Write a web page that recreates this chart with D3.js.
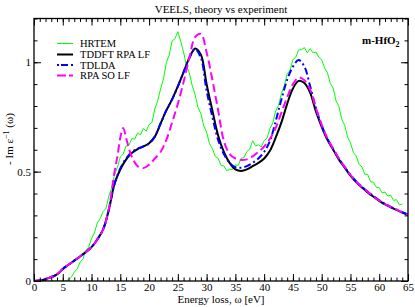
<!DOCTYPE html>
<html>
<head>
<meta charset="utf-8">
<script src="https://cdn.jsdelivr.net/npm/d3@7"></script>
<style>
  body { margin: 0; background: #fff; }
  svg { display: block; font-family: "Liberation Serif", "DejaVu Serif", serif; }
</style>
</head>
<body>
<script>
// sizes
const width = 415;
const height = 307;
const plotLeft = 34, plotRight = 408, plotTop = 18.5, plotBottom = 281;

// data: [energy eV, -Im 1/eps]
const hrtem = [
  [0,0],[5.5,0],[6,0.006],[6.5,0.018],[7,0.04],[7.5,0.055],[8,0.085],[8.5,0.1],[9,0.14],[9.5,0.155],
  [10,0.195],[10.5,0.22],[11,0.265],[11.5,0.285],[12,0.318],[12.5,0.33],[13,0.388],[13.5,0.425],[14,0.487],[14.5,0.52],
  [15,0.567],[15.5,0.58],[16,0.617],[16.5,0.62],[17,0.652],[17.5,0.648],[18,0.676],[18.5,0.668],[19,0.697],[19.5,0.685],
  [20,0.716],[20.5,0.725],[21,0.787],[21.5,0.824],[22,0.878],[22.5,0.924],[23,0.998],[23.5,1.033],[24,1.097],[24.5,1.108],
  [25,1.14],[25.5,1.095],[26,1.046],[26.5,0.984],[27,0.951],[27.5,0.893],[28,0.852],[28.5,0.794],[29,0.766],[29.5,0.709],
  [30,0.681],[30.5,0.628],[31,0.606],[31.5,0.569],[32,0.561],[32.5,0.529],[33,0.526],[33.5,0.504],[34,0.511],[34.5,0.509],
  [35,0.531],[35.5,0.528],[36,0.561],[36.5,0.564],[37,0.592],[37.5,0.603],[38,0.641],[38.5,0.618],[39,0.622],[39.5,0.613],
  [40,0.641],[40.5,0.653],[41,0.697],[41.5,0.723],[42,0.777],[42.5,0.803],[43,0.857],[43.5,0.893],[44,0.947],[44.5,0.963],
  [45,1.012],[45.5,1.023],[46,1.057],[46.5,1.058],[47,1.067],[47.5,1.043],[48,1.062],[48.5,1.043],[49,1.047],[49.5,1.023],
  [50,1.012],[50.5,0.973],[51,0.952],[51.5,0.903],[52,0.882],[52.5,0.823],[53,0.797],[53.5,0.738],[54,0.712],[54.5,0.658],
  [55,0.632],[55.5,0.588],[56,0.572],[56.5,0.533],[57,0.522],[57.5,0.488],[58,0.487],[58.5,0.453],[59,0.452],[59.5,0.428],
  [60,0.427],[60.5,0.403],[61,0.407],[61.5,0.388],[62,0.392],[62.5,0.368],[63,0.372],[63.5,0.348],[64,0.352]
];

const tddftRpaLf = [
  [0,0],[1,0.002],[2,0.008],[3,0.018],[4,0.03],[5,0.055],[6,0.074],[7,0.093],[8,0.112],[9,0.132],
  [10,0.155],[11,0.19],[12,0.235],[13,0.325],[14,0.445],[15,0.51],[16,0.555],[17,0.585],[18,0.603],[19,0.615],
  [20,0.63],[21,0.66],[22,0.72],[23,0.78],[24,0.83],[25,0.89],[26,0.955],[27,1.02],[28,1.063],[29,1.035],
  [30,0.9],[31,0.78],[32,0.665],[33,0.59],[34,0.54],[35,0.51],[36,0.503],[37,0.51],[38,0.525],[39,0.54],
  [40,0.56],[41,0.595],[42,0.655],[43,0.725],[44,0.81],[45,0.88],[46,0.915],[47,0.905],[48,0.86],[49,0.775],
  [50,0.705],[51,0.645],[52,0.6],[53,0.555],[54,0.518],[55,0.482],[56,0.452],[57,0.427],[58,0.405],[59,0.385],
  [60,0.366],[61,0.35],[62,0.337],[63,0.325],[64,0.313],[65,0.302]
];

const tdlda = [
  [0,0],[1,0.002],[2,0.008],[3,0.018],[4,0.03],[5,0.055],[6,0.074],[7,0.093],[8,0.112],[9,0.132],
  [10,0.155],[11,0.19],[12,0.235],[13,0.325],[14,0.445],[15,0.515],[16,0.56],[17,0.59],[18,0.605],[19,0.615],
  [20,0.628],[21,0.66],[22,0.72],[23,0.78],[24,0.83],[25,0.89],[26,0.955],[27,1.02],[28,1.06],[29,1.02],
  [30,0.87],[31,0.75],[32,0.645],[33,0.58],[34,0.54],[35,0.52],[36,0.518],[37,0.525],[38,0.54],[39,0.56],
  [40,0.59],[41,0.64],[42,0.73],[43,0.83],[44,0.92],[45,0.98],[46,1.01],[47,0.98],[48,0.89],[49,0.79],
  [50,0.71],[51,0.65],[52,0.603],[53,0.558],[54,0.521],[55,0.485],[56,0.455],[57,0.43],[58,0.408],[59,0.388],
  [60,0.369],[61,0.353],[62,0.339],[63,0.327],[64,0.315],[65,0.304]
];

const rpaSoLf = [
  [0,0],[1,0.002],[2,0.008],[3,0.018],[4,0.03],[5,0.055],[6,0.074],[7,0.093],[8,0.112],[9,0.132],
  [10,0.155],[11,0.19],[12,0.235],[13,0.33],[14,0.5],[14.5,0.57],[15,0.655],[15.5,0.7],[16,0.655],[16.5,0.605],
  [17,0.568],[18,0.525],[19,0.516],[20,0.532],[21,0.56],[22,0.59],[23,0.645],[24,0.725],[25,0.81],[26,0.91],
  [27,1.02],[28,1.115],[29,1.13],[30,1.045],[31,0.92],[32,0.78],[33,0.64],[34,0.58],[35,0.56],[36,0.553],
  [37,0.556],[38,0.57],[39,0.59],[40,0.615],[41,0.65],[42,0.7],[43,0.77],[44,0.84],[45,0.9],[46,0.93],
  [47,0.918],[48,0.875],[49,0.79],[50,0.715],[51,0.652],[52,0.605],[53,0.56],[54,0.522],[55,0.485],[56,0.455],
  [57,0.43],[58,0.408],[59,0.387],[60,0.368],[61,0.352],[62,0.338],[63,0.326],[64,0.314],[65,0.303]
];

const legendNames = ["HRTEM", "TDDFT RPA LF", "TDLDA", "RPA SO LF"];
const xTicks = [0,5,10,15,20,25,30,35,40,45,50,55,60,65];
const yTicks = [0, 0.5, 1];

// styles per series
const seriesStyle = [
  {data: hrtem, color: "#00ff00", w: 1, dash: null, curve: d3.curveLinear},
  {data: tddftRpaLf, color: "#000000", w: 2, dash: null, curve: d3.curveCatmullRom},
  {data: tdlda, color: "#0000ff", w: 2, dash: "7,3,2,3", curve: d3.curveCatmullRom},
  {data: rpaSoLf, color: "#ff00ff", w: 2, dash: "8,4", curve: d3.curveCatmullRom}
];

const svg = d3.select("body").append("svg")
  .attr("width", width)
  .attr("height", height);

const xScale = d3.scaleLinear().domain([0, 65]).range([plotLeft, plotRight]);
const yScale = d3.scaleLinear().domain([0, 1.2]).range([plotBottom, plotTop]);

//Title
svg.append("text")
  .attr("x", (plotLeft + plotRight) / 2)
  .attr("y", 13)
  .attr("text-anchor", "middle")
  .attr("font-size", 11)
  .text("VEELS, theory vs experiment");

// curves
svg.append("clipPath").attr("id", "clip")
  .append("rect")
  .attr("x", plotLeft).attr("y", plotTop)
  .attr("width", plotRight - plotLeft).attr("height", plotBottom - plotTop);

const gLines = svg.append("g").attr("clip-path", "url(#clip)");
seriesStyle.forEach(s => {
  const line = d3.line()
    .x(d => xScale(d[0]))
    .y(d => yScale(d[1]))
    .curve(s.curve);
  gLines.append("path")
    .datum(s.data)
    .attr("fill", "none")
    .attr("stroke", s.color)
    .attr("stroke-width", s.w)
    .attr("stroke-dasharray", s.dash)
    .attr("d", line);
});

// axes, ticks pointing inwards
const minorX = d3.range(0, 66, 1);
const minorY = d3.range(0, 1.21, 0.1);
const axisStyle = g => {
  g.select(".domain").remove();
  g.selectAll(".tick line").attr("stroke", "#000").attr("stroke-width", 1);
  g.selectAll("text").attr("font-family", "Liberation Serif").attr("font-size", 11).attr("fill", "#000");
};

// bottom
svg.append("g").attr("transform", `translate(0,${plotBottom})`)
  .call(d3.axisBottom(xScale).tickValues(minorX).tickSize(-3.5).tickFormat(""))
  .call(axisStyle);
svg.append("g").attr("transform", `translate(0,${plotBottom})`)
  .call(d3.axisBottom(xScale).tickValues(xTicks).tickSize(-7).tickPadding(2).tickFormat(d3.format("d")))
  .call(axisStyle);
// top
svg.append("g").attr("transform", `translate(0,${plotTop})`)
  .call(d3.axisTop(xScale).tickValues(minorX).tickSize(-3.5).tickFormat(""))
  .call(axisStyle);
svg.append("g").attr("transform", `translate(0,${plotTop})`)
  .call(d3.axisTop(xScale).tickValues(xTicks).tickSize(-7).tickFormat(""))
  .call(axisStyle);
// left
svg.append("g").attr("transform", `translate(${plotLeft},0)`)
  .call(d3.axisLeft(yScale).tickValues(minorY).tickSize(-3.5).tickFormat(""))
  .call(axisStyle);
svg.append("g").attr("transform", `translate(${plotLeft},0)`)
  .call(d3.axisLeft(yScale).tickValues(yTicks).tickSize(-7).tickPadding(3).tickFormat(d => d))
  .call(axisStyle);
// right
svg.append("g").attr("transform", `translate(${plotRight},0)`)
  .call(d3.axisRight(yScale).tickValues(minorY).tickSize(-3.5).tickFormat(""))
  .call(axisStyle);
svg.append("g").attr("transform", `translate(${plotRight},0)`)
  .call(d3.axisRight(yScale).tickValues(yTicks).tickSize(-7).tickFormat(""))
  .call(axisStyle);

// frame
svg.append("rect")
  .attr("x", plotLeft).attr("y", plotTop)
  .attr("width", plotRight - plotLeft).attr("height", plotBottom - plotTop)
  .attr("fill", "none").attr("stroke", "#000").attr("stroke-width", 1.3);

// axis titles
svg.append("text")
  .attr("x", (plotLeft + plotRight) / 2)
  .attr("y", 303)
  .attr("text-anchor", "middle")
  .attr("font-size", 11)
  .text("Energy loss, \u03c9 [eV]");

const yLab = svg.append("text")
  .attr("transform", "translate(13,139) rotate(-90)")
  .attr("text-anchor", "middle")
  .attr("font-size", 11);
yLab.append("tspan").text("- Im \u03b5");
yLab.append("tspan").attr("dy", -4).attr("font-size", 8).text("\u22121");
yLab.append("tspan").attr("dy", 4).text(" (\u03c9)");

// legend
const legend = svg.append("g");
const legendY = [43.5, 54.5, 65, 75.5];
seriesStyle.forEach((s, i) => {
  legend.append("line")
    .attr("x1", 57).attr("x2", 73)
    .attr("y1", legendY[i]).attr("y2", legendY[i])
    .attr("stroke", s.color)
    .attr("stroke-width", s.w)
    .attr("stroke-dasharray", s.dash ? (i === 2 ? "2,2,7,3" : "9,3") : null);
  legend.append("text")
    .attr("x", 80).attr("y", legendY[i] + 3.5)
    .attr("font-size", 10.5)
    .text(legendNames[i]);
});

// label
const lab = svg.append("text")
  .attr("x", 362).attr("y", 44)
  .attr("font-size", 11)
  .attr("font-weight", "bold");
lab.append("tspan").text("m-HfO");
lab.append("tspan").attr("dy", 3).attr("font-size", 8).text("2");
</script>
</body>
</html>
